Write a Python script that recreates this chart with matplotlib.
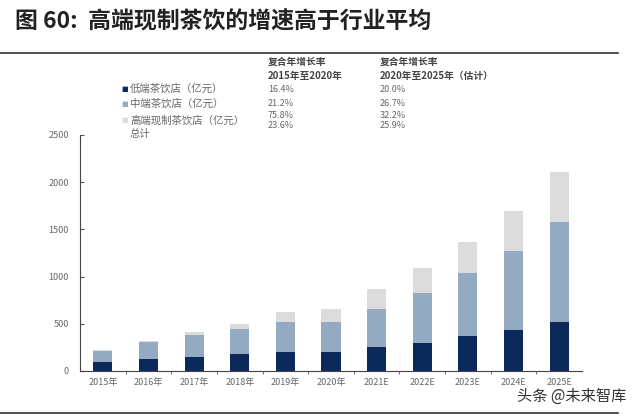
import matplotlib.pyplot as plt
import numpy as np

plt.rcParams['font.family'] = ['Noto Sans CJK SC', 'DejaVu Sans']

years = ['2015年', '2016年', '2017年', '2018年', '2019年', '2020年',
         '2021E', '2022E', '2023E', '2024E', '2025E']
low_end = [96, 128, 146, 178, 205, 205, 255, 298, 372, 433, 521]
mid_end = [117, 181, 240, 269, 313, 318, 398, 532, 664, 841, 1061]
high_end = [8, 14, 25, 56, 102, 130, 213, 260, 330, 425, 529]

series_names = ['低端茶饮店（亿元）', '中端茶饮店（亿元）', '高端现制茶饮店（亿元）', '总计']
cagr_1520 = ['16.4%', '21.2%', '75.8%', '23.6%']
cagr_2025 = ['20.0%', '26.7%', '32.2%', '25.9%']

c_low = '#0b2a5b'
c_mid = '#94aac3'
c_high = '#dcdcdc'
txt = '#666666'

fig = plt.figure(figsize=(6.4, 4.2), dpi=100)
ax = fig.add_axes([80 / 640, 49 / 420, 502 / 640, 236 / 420])

x = np.arange(len(years))
w = 0.42
low = np.array(low_end)
mid = np.array(mid_end)
high = np.array(high_end)
ax.bar(x, low, w, color=c_low)
ax.bar(x, mid, w, bottom=low, color=c_mid)
ax.bar(x, high, w, bottom=low + mid, color=c_high)

ax.set_xlim(-0.5, len(years) - 0.5)
ax.set_ylim(0, 2500)
ax.set_yticks(range(0, 2501, 500))
ax.set_xticks(x)
ax.set_xticklabels(years)
ax.set_xticks(np.arange(0.5, len(years) - 1, 1), minor=True)
ax.tick_params(axis='x', which='major', length=0, labelsize=6.5, labelcolor=txt, pad=5)
ax.tick_params(axis='x', which='minor', length=2.5, direction='out', color='#555555')
ax.tick_params(axis='y', length=3, direction='in', labelsize=6.5, labelcolor=txt, pad=8, color='#555555')
for s in ['top', 'right']:
    ax.spines[s].set_visible(False)
for s in ['left', 'bottom']:
    ax.spines[s].set_color('#444444')
    ax.spines[s].set_linewidth(0.8)


def px(xp, yp):
    return xp / 640, 1 - yp / 420


# title and rules
fig.text(*px(15, 22), '图 60:  高端现制茶饮的增速高于行业平均', fontsize=16.5,
         fontweight='bold', color='#222222', va='center', ha='left')
fig.add_artist(plt.Line2D([0, 618 / 640], [1 - 53 / 420] * 2, color='#333333', lw=1.2))
fig.add_artist(plt.Line2D([0, 618 / 640], [1 - 413 / 420] * 2, color='#333333', lw=1.2))

# CAGR table
hs = 7
fig.text(*px(268, 62), '复合年增长率', fontsize=hs, color='#444444', va='center', fontweight='bold')
fig.text(*px(268, 76), '2015年至2020年', fontsize=hs, color='#444444', va='center', fontweight='bold')
fig.text(*px(380, 62), '复合年增长率', fontsize=hs, color='#444444', va='center', fontweight='bold')
fig.text(*px(380, 76), '2020年至2025年（估计）', fontsize=hs, color='#444444', va='center', fontweight='bold')

row_y = [90, 104, 116, 126]
label_y = [89, 104, 120, 134]
marker_colors = [c_low, c_mid, c_high, None]
for i in range(4):
    if marker_colors[i] is not None:
        fig.text(*px(125, label_y[i]), '■', fontsize=5, color=marker_colors[i],
                 va='center', ha='center', family='DejaVu Sans')
    fig.text(*px(130, label_y[i]), series_names[i], fontsize=7.5, color=txt, va='center')
    fig.text(*px(268, row_y[i]), cagr_1520[i], fontsize=6.5, color=txt, va='center')
    fig.text(*px(380, row_y[i]), cagr_2025[i], fontsize=6.5, color=txt, va='center')

# watermark
fig.text(*px(626, 396), '头条 @未来智库', fontsize=11, color='#333333', va='center', ha='right')

fig.savefig('out.png', dpi=100)
